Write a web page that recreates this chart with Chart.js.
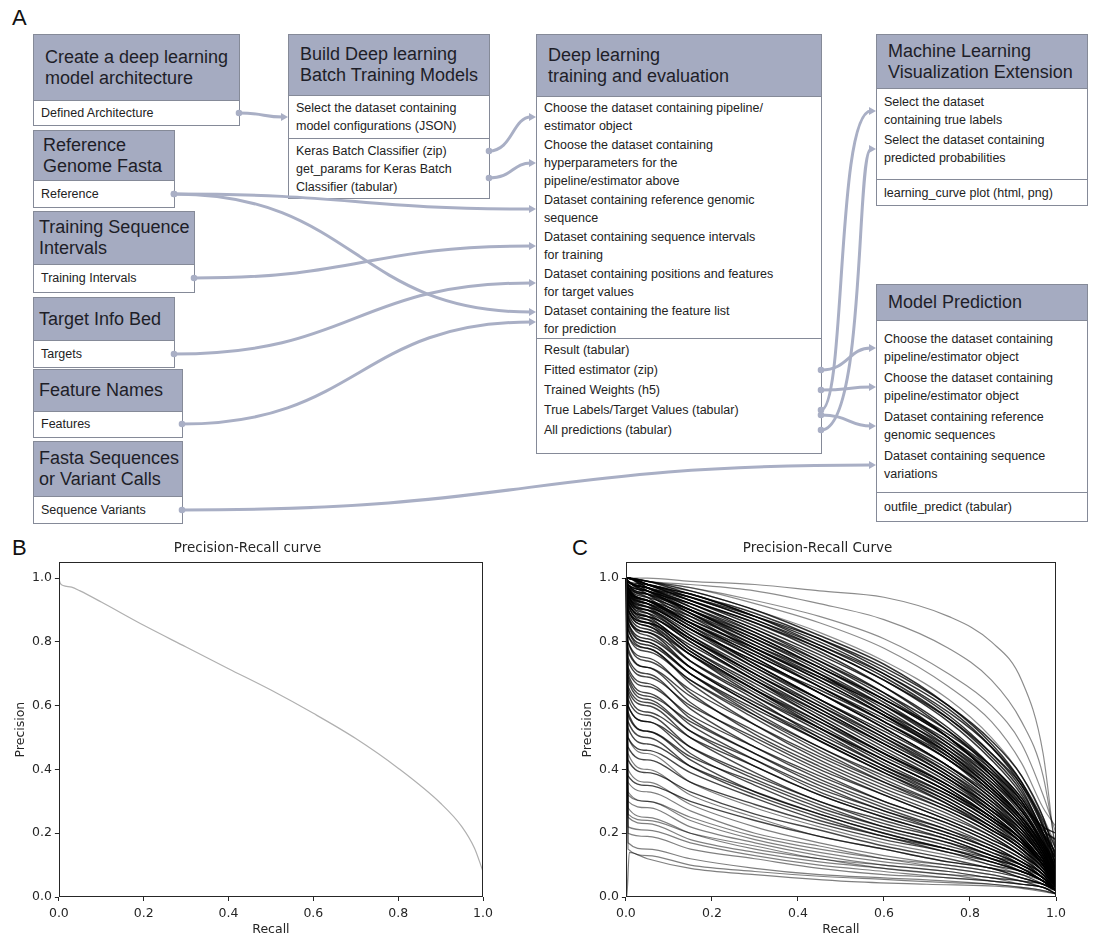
<!DOCTYPE html>
<html><head><meta charset="utf-8">
<script src="https://cdn.jsdelivr.net/npm/chart.js@4.4.1/dist/chart.umd.min.js"></script>
<style>
html,body{margin:0;padding:0;background:#fff;}
#page{position:relative;width:1102px;height:937px;overflow:hidden;font-family:"Liberation Sans",Arial,sans-serif;color:#222;}
.lbl{position:absolute;font-size:22px;color:#111;line-height:22px;}
.box{position:absolute;background:#fff;border:1px solid #858a98;box-sizing:border-box;}
.hd{background:#a5abc1;display:flex;align-items:center;padding-left:11px;font-size:18px;line-height:21px;border-bottom:1px solid #858a98;box-sizing:border-box;color:#1e1e28;white-space:nowrap;}
.hd.n{padding-left:5px;}
.sec{box-sizing:border-box;}
.sec + .sec{border-top:1px solid #858a98;}
.it{padding:0 7px;font-size:12.5px;line-height:18px;white-space:nowrap;}
.o20 .it{line-height:20px;}
svg#wires{position:absolute;left:0;top:0;pointer-events:none;}
.cw{position:absolute;}
</style>
</head>
<body>
<div id="page">
  <div class="lbl" style="left:12px;top:7px;">A</div>
  <div class="lbl" style="left:12px;top:537px;">B</div>
  <div class="lbl" style="left:572px;top:537px;">C</div>

  <div class="box" style="left:33px;top:34px;width:207px;">
    <div class="hd" style="height:66px;">Create a deep learning<br>model architecture</div>
    <div class="sec" style="height:24px;padding-top:3px;"><div class="it" id="defarch">Defined Architecture</div></div>
  </div>
  <div class="box" style="left:33px;top:130px;width:142px;">
    <div class="hd" style="height:50px;padding-left:9px;">Reference<br>Genome Fasta</div>
    <div class="sec" style="height:26px;padding-top:4px;"><div class="it" id="ref">Reference</div></div>
  </div>
  <div class="box" style="left:33px;top:211px;width:162px;">
    <div class="hd n" style="height:53px;">Training Sequence<br>Intervals</div>
    <div class="sec" style="height:27px;padding-top:4px;"><div class="it" id="train">Training Intervals</div></div>
  </div>
  <div class="box" style="left:33px;top:297px;width:142px;">
    <div class="hd n" style="height:43px;">Target Info Bed</div>
    <div class="sec" style="height:26px;padding-top:4px;"><div class="it" id="targ">Targets</div></div>
  </div>
  <div class="box" style="left:33px;top:369px;width:150px;">
    <div class="hd n" style="height:42px;">Feature Names</div>
    <div class="sec" style="height:25px;padding-top:3px;"><div class="it" id="feat">Features</div></div>
  </div>
  <div class="box" style="left:33px;top:441px;width:150px;">
    <div class="hd n" style="height:55px;">Fasta Sequences<br>or Variant Calls</div>
    <div class="sec" style="height:26px;padding-top:4px;"><div class="it" id="seqv">Sequence Variants</div></div>
  </div>

  <div class="box" style="left:288px;top:34px;width:202px;">
    <div class="hd" style="height:61px;">Build Deep learning<br>Batch Training Models</div>
    <div class="sec" style="height:42px;padding-top:3px;"><div class="it" id="b_in">Select the dataset containing<br>model configurations (JSON)</div></div>
    <div class="sec" style="height:60px;padding-top:3px;">
      <div class="it" id="kzip">Keras Batch Classifier (zip)</div>
      <div class="it" id="gp">get_params for Keras Batch<br>Classifier (tabular)</div>
    </div>
  </div>

  <div class="box" style="left:536px;top:34px;width:286px;">
    <div class="hd" style="height:62px;">Deep learning<br>training and evaluation</div>
    <div class="sec" style="height:241px;padding-top:2px;">
      <div class="it" id="dl1" style="margin-bottom:1px">Choose the dataset containing pipeline/<br>estimator object</div>
      <div class="it" id="dl2" style="margin-bottom:1px">Choose the dataset containing<br>hyperparameters for the<br>pipeline/estimator above</div>
      <div class="it" id="dl3" style="margin-bottom:1px">Dataset containing reference genomic<br>sequence</div>
      <div class="it" id="dl4" style="margin-bottom:1px">Dataset containing sequence intervals<br>for training</div>
      <div class="it" id="dl5" style="margin-bottom:1px">Dataset containing positions and features<br>for target values</div>
      <div class="it" id="dl6">Dataset containing the feature list<br>for prediction</div>
    </div>
    <div class="sec o20" style="height:115px;padding-top:1px;">
      <div class="it" id="res">Result (tabular)</div>
      <div class="it" id="fit">Fitted estimator (zip)</div>
      <div class="it" id="tw">Trained Weights (h5)</div>
      <div class="it" id="tl">True Labels/Target Values (tabular)</div>
      <div class="it" id="ap">All predictions (tabular)</div>
    </div>
  </div>

  <div class="box" style="left:876px;top:34px;width:212px;">
    <div class="hd" style="height:54px;">Machine Learning<br>Visualization Extension</div>
    <div class="sec" style="height:90px;padding-top:4px;">
      <div class="it" id="m1" style="margin-bottom:2px">Select the dataset<br>containing true labels</div>
      <div class="it" id="m2">Select the dataset containing<br>predicted probabilities</div>
    </div>
    <div class="sec" style="height:26px;padding-top:4px;"><div class="it">learning_curve plot (html, png)</div></div>
  </div>

  <div class="box" style="left:876px;top:284px;width:212px;">
    <div class="hd" style="height:36px;">Model Prediction</div>
    <div class="sec" style="height:171px;padding-top:9px;">
      <div class="it" id="p1" style="margin-bottom:3px">Choose the dataset containing<br>pipeline/estimator object</div>
      <div class="it" id="p2" style="margin-bottom:3px">Choose the dataset containing<br>pipeline/estimator object</div>
      <div class="it" id="p3" style="margin-bottom:3px">Dataset containing reference<br>genomic sequences</div>
      <div class="it" id="p4">Dataset containing sequence<br>variations</div>
    </div>
    <div class="sec" style="height:29px;padding-top:5px;"><div class="it">outfile_predict (tabular)</div></div>
  </div>

  <svg id="wires" width="1102" height="530"></svg>

  <div class="cw" style="left:0;top:530px;width:550px;height:407px;"><canvas id="chartB" width="550" height="407"></canvas></div>
  <div class="cw" style="left:550px;top:530px;width:552px;height:407px;"><canvas id="chartC" width="552" height="407"></canvas></div>
</div>

<script>
// ---------- Panel B data ----------
const recallB = [0, 0.003, 0.01, 0.03, 0.05, 0.1, 0.2, 0.3, 0.4, 0.5, 0.6, 0.7, 0.8, 0.9, 0.95, 0.98, 1.0];
const precisionB = [1.0, 0.985, 0.977, 0.972, 0.96, 0.925, 0.852, 0.784, 0.716, 0.649, 0.576, 0.497, 0.404, 0.294, 0.221, 0.153, 0.08];

// ---------- Panel C data (precision at each recall grid point) ----------
const recallC = [0, 0.005, 0.05, 0.15, 0.3, 0.45, 0.6, 0.75, 0.85, 0.92, 0.97, 1.0];
const curvesTop = [
  [1, 1, 1, .99, .98, .96, .94, .88, .80, .68, .45, .12],
  [1, 1, .99, .98, .96, .92, .87, .78, .68, .55, .38, .15],
  [1, 1, .99, .97, .93, .88, .81, .70, .60, .48, .32, .20],
  [1, 1, .99, .97, .92, .86, .78, .66, .55, .42, .28, .22],
  [1, 1, .98, .96, .90, .83, .74, .62, .50, .38, .25, .16]
];
const curvesDense = [
  [1, 1, .98, .94, .87, .78, .68, .55, .43, .32, .20, .10],
  [1, 1, .98, .93, .85, .76, .66, .53, .41, .30, .18, .09],
  [1, 1, .97, .92, .84, .74, .63, .50, .38, .28, .17, .08],
  [1, .99, .97, .91, .82, .72, .61, .48, .37, .27, .16, .07],
  [1, .99, .96, .90, .80, .70, .59, .46, .35, .25, .15, .07],
  [1, 1, .96, .89, .78, .68, .57, .45, .34, .24, .14, .06],
  [1, .98, .95, .88, .77, .66, .55, .43, .33, .23, .14, .06],
  [1, .98, .94, .86, .75, .64, .53, .41, .31, .22, .13, .05],
  [1, .97, .93, .85, .73, .62, .51, .40, .30, .21, .12, .05],
  [1, .97, .92, .84, .72, .61, .50, .38, .29, .20, .12, .05],
  [1, .96, .91, .82, .70, .59, .48, .37, .28, .19, .11, .04],
  [1, .95, .90, .81, .69, .58, .47, .36, .27, .19, .11, .04],
  [1, .95, .89, .80, .68, .56, .45, .35, .26, .18, .10, .04],
  [1, .94, .88, .78, .66, .55, .44, .34, .25, .17, .10, .04],
  [1, .93, .87, .77, .65, .53, .42, .32, .24, .17, .10, .03],
  [1, .92, .86, .76, .63, .52, .41, .31, .23, .16, .09, .03],
  [1, .90, .85, .74, .62, .50, .40, .30, .22, .15, .09, .03],
  [1, .88, .83, .72, .60, .49, .39, .29, .21, .15, .08, .03],
  [1, .99, .95, .87, .78, .69, .60, .49, .39, .30, .19, .12],
  [1, 1, .97, .90, .81, .72, .62, .51, .41, .31, .20, .14],
  [1, .98, .96, .89, .79, .69, .58, .47, .37, .27, .17, .11],
  [1, .97, .93, .86, .76, .66, .56, .45, .35, .25, .16, .10],
  [1, .96, .92, .84, .74, .64, .54, .43, .33, .24, .15, .09],
  [1, 1, .98, .95, .88, .80, .70, .57, .45, .34, .21, .18],
  [1, 1, .99, .95, .89, .81, .71, .59, .47, .35, .22, .13],
  [1, .99, .97, .92, .83, .73, .62, .50, .39, .29, .22, .20]
];
const curvesDense2 = [
  [1, 1, .99, .96, .90, .82, .73, .60, .48, .36, .22, .10],
  [1, 1, .98, .95, .88, .79, .69, .56, .44, .33, .20, .08],
  [1, .99, .97, .93, .86, .77, .66, .52, .40, .29, .18, .06],
  [1, .99, .96, .92, .84, .75, .64, .50, .38, .27, .16, .05],
  [1, .98, .95, .90, .81, .71, .60, .47, .36, .26, .15, .05],
  [1, .97, .94, .89, .80, .70, .58, .45, .34, .25, .15, .06],
  [1, .97, .93, .87, .78, .68, .57, .44, .33, .24, .14, .05],
  [1, .96, .93, .86, .76, .66, .55, .43, .32, .23, .14, .06],
  [1, .96, .92, .85, .75, .64, .53, .41, .31, .22, .13, .05],
  [1, .95, .91, .84, .73, .62, .51, .39, .29, .21, .12, .04],
  [1, .94, .90, .82, .71, .60, .49, .38, .28, .20, .12, .04],
  [1, .93, .89, .81, .70, .59, .48, .37, .27, .19, .11, .05],
  [1, .92, .88, .80, .68, .57, .46, .35, .26, .18, .10, .04],
  [1, .91, .87, .78, .67, .56, .45, .34, .25, .18, .10, .03],
  [1, .90, .86, .77, .65, .54, .43, .33, .24, .17, .10, .03],
  [1, .99, .97, .94, .88, .81, .72, .60, .49, .38, .25, .12],
  [1, .99, .98, .94, .87, .79, .70, .58, .47, .36, .24, .15],
  [1, 1, .98, .93, .86, .78, .68, .56, .45, .35, .23, .10],
  [1, .98, .96, .91, .83, .74, .64, .52, .41, .31, .20, .12],
  [1, .97, .95, .90, .82, .72, .62, .50, .40, .30, .19, .08],
  [1, .96, .93, .88, .79, .70, .60, .48, .38, .28, .17, .07],
  [1, .95, .92, .86, .77, .67, .57, .46, .36, .27, .17, .09],
  [1, .94, .91, .84, .74, .65, .55, .44, .34, .25, .16, .08],
  [1, .93, .90, .83, .72, .62, .52, .41, .32, .23, .14, .06],
  [1, .92, .88, .81, .70, .60, .50, .39, .30, .22, .13, .05],
  [1, .90, .86, .79, .68, .58, .48, .37, .28, .21, .13, .06],
  [1, .89, .84, .76, .65, .55, .45, .35, .27, .20, .12, .05],
  [1, .87, .83, .74, .63, .53, .43, .33, .25, .18, .11, .04],
  [1, .86, .81, .72, .61, .51, .41, .32, .24, .17, .10, .04],
  [1, .84, .79, .70, .59, .49, .39, .30, .22, .16, .10, .04]
];
const curvesMiddle = [
  [1, .85, .80, .70, .57, .46, .36, .27, .20, .14, .08, .03],
  [1, .82, .78, .67, .54, .43, .34, .26, .19, .13, .08, .03],
  [1, .80, .75, .64, .51, .41, .32, .24, .18, .13, .07, .03],
  [1, .78, .72, .61, .49, .39, .30, .23, .17, .12, .07, .02],
  [1, .75, .70, .59, .47, .37, .29, .22, .16, .11, .07, .02],
  [1, .72, .67, .56, .45, .35, .27, .21, .15, .11, .06, .02],
  [1, .70, .64, .54, .43, .33, .26, .20, .15, .10, .06, .02],
  [1, .68, .62, .52, .41, .32, .25, .19, .14, .10, .06, .02],
  [1, .65, .60, .50, .39, .30, .24, .18, .13, .09, .05, .02],
  [1, .62, .57, .47, .37, .29, .22, .17, .12, .09, .05, .02],
  [1, .60, .55, .45, .35, .27, .21, .16, .12, .08, .05, .02],
  [1, .58, .52, .43, .33, .26, .20, .15, .11, .08, .05, .02],
  [1, .90, .85, .76, .64, .53, .43, .33, .25, .18, .11, .05],
  [1, .88, .82, .72, .60, .50, .40, .31, .23, .17, .10, .05],
  [1, .86, .80, .70, .58, .47, .38, .29, .22, .16, .10, .06],
  [1, .84, .78, .68, .56, .45, .36, .28, .21, .15, .09, .04],
  [1, .55, .50, .41, .32, .25, .19, .15, .11, .08, .05, .02],
  [1, .82, .77, .68, .57, .47, .37, .28, .21, .15, .09, .03],
  [1, .80, .74, .65, .54, .44, .35, .27, .20, .14, .08, .03],
  [1, .77, .72, .63, .52, .42, .33, .25, .19, .13, .08, .03],
  [1, .74, .69, .60, .50, .40, .32, .24, .18, .13, .08, .02],
  [1, .71, .66, .57, .47, .38, .30, .23, .17, .12, .07, .02],
  [1, .69, .63, .55, .45, .36, .28, .21, .16, .11, .07, .02],
  [1, .66, .61, .52, .43, .34, .27, .20, .15, .11, .06, .02],
  [1, .64, .58, .50, .41, .32, .25, .19, .14, .10, .06, .02],
  [1, .60, .55, .47, .38, .30, .23, .18, .13, .10, .06, .02],
  [1, .57, .52, .44, .36, .28, .22, .17, .13, .09, .06, .02],
  [1, .53, .48, .41, .33, .26, .20, .15, .12, .09, .05, .02],
  [1, .50, .46, .39, .31, .24, .19, .14, .11, .08, .05, .02],
  [1, .47, .43, .36, .29, .23, .18, .14, .10, .08, .05, .02],
  [1, .43, .39, .33, .26, .21, .16, .12, .09, .07, .04, .02],
  [1, .38, .35, .30, .24, .19, .15, .11, .09, .06, .04, .02]
];
const curvesLow = [
  [1, .50, .45, .36, .28, .22, .17, .13, .10, .07, .05, .02],
  [1, .45, .40, .32, .25, .19, .15, .11, .09, .06, .04, .02],
  [1, .40, .36, .29, .22, .17, .13, .10, .08, .06, .04, .02],
  [1, .36, .33, .27, .20, .16, .12, .09, .07, .05, .04, .02],
  [1, .33, .30, .24, .18, .14, .11, .09, .07, .05, .03, .02],
  [1, .30, .28, .22, .17, .13, .10, .08, .06, .05, .03, .01],
  [1, .28, .25, .20, .15, .12, .09, .07, .06, .04, .03, .01],
  [1, .25, .23, .18, .14, .11, .09, .07, .05, .04, .03, .01],
  [1, .22, .21, .17, .13, .10, .08, .06, .05, .04, .03, .01],
  [1, .20, .19, .15, .12, .09, .07, .06, .05, .04, .03, .01],
  [1, .17, .15, .12, .09, .07, .06, .05, .04, .03, .02, .01],
  [1, .15, .13, .10, .08, .065, .055, .045, .04, .03, .02, .01],
  [1, .32, .30, .25, .19, .15, .12, .10, .08, .06, .04, .03],
  [1, .26, .24, .20, .16, .12, .10, .08, .06, .05, .04, .02]
];
// one curve whose first predictions are wrong (precision drops to 0 near recall 0)
const recallZeroStart = [0, 0.002, 0.008, 0.05, 0.15, 0.3, 0.5, 0.7, 0.9, 1.0];
const precisionZeroStart = [1, 0, 0.14, 0.12, 0.09, 0.07, 0.05, 0.04, 0.03, 0.01];
const axisTicks = [0, 0.2, 0.4, 0.6, 0.8, 1.0];

// ---------- diagram wiring ----------
const wires = [
  ['defarch','b_in',0,0],
  ['kzip','dl1',0,0],
  ['gp','dl2',0,0],
  ['ref','dl3',0,0],
  ['ref','dl6',0,-8],
  ['train','dl4',0,0],
  ['targ','dl5',0,0],
  ['feat','dl6',0,2],
  ['fit','p1',0,0],
  ['tw','p2',0,0],
  ['tl','m1',0,0,25,40],
  ['ap','m2',0,0,45,20],
  ['tl','p3',5,0],
  ['seqv','p4',0,0]
];
(function drawWires(){
  const svg = document.getElementById('wires');
  const page = document.getElementById('page').getBoundingClientRect();
  const col = '#a9afc5';
  let out = '';
  wires.forEach(w => {
    const a = document.getElementById(w[0]), b = document.getElementById(w[1]);
    const ra = a.getBoundingClientRect(), rb = b.getBoundingClientRect();
    const ba = a.closest('.box').getBoundingClientRect(), bb = b.closest('.box').getBoundingClientRect();
    const x1 = ba.right - page.left - 1, y1 = ra.top + ra.height/2 - page.top + w[2];
    const x2 = bb.left - page.left, y2 = rb.top + rb.height/2 - page.top + w[3];
    const dx = x2 - x1;
    const k1 = w[4] !== undefined ? w[4] : Math.max(20, dx*0.5);
    const k2 = w[5] !== undefined ? w[5] : Math.max(20, dx*0.5);
    out += `<path d="M${x1},${y1} C${x1+k1},${y1} ${x2-k2},${y2} ${x2-5},${y2}" fill="none" stroke="${col}" stroke-width="3"/>`;
    out += `<circle cx="${x1}" cy="${y1}" r="3.3" fill="${col}"/>`;
    out += `<path d="M${x2-7},${y2-4} L${x2},${y2} L${x2-7},${y2+4} Z" fill="${col}"/>`;
  });
  svg.innerHTML = out;
})();

// ---------- charts ----------
const txt = '#262626';
const framePlugin = {
  id: 'frame',
  afterDatasetsDraw(chart) {
    const {ctx, chartArea: a} = chart;
    ctx.save();
    ctx.strokeStyle = txt; ctx.lineWidth = 1;
    ctx.strokeRect(Math.round(a.left) + 0.5, Math.round(a.top) + 0.5, Math.round(a.right - a.left) - 1, Math.round(a.bottom - a.top) - 1);
    ctx.restore();
  }
};
function axis(title, max, tickPad, titlePad) {
  return {
    type: 'linear', min: 0, max: max,
    afterBuildTicks: s => { s.ticks = axisTicks.map(v => ({value: v})); },
    ticks: {color: txt, font: {family: 'DejaVu Sans', size: 12.5}, padding: tickPad, maxRotation: 0, autoSkip: false,
      callback: v => Number(v).toFixed(1)},
    grid: {display: true, drawOnChartArea: false, drawTicks: true, tickLength: 4, color: txt},
    border: {display: false},
    title: {display: true, text: title, color: txt, font: {family: 'DejaVu Sans', size: 12.5}, padding: titlePad}
  };
}
function options(titleText, pad) {
  return {
    responsive: false, animation: false, maintainAspectRatio: false,
    layout: {padding: pad},
    plugins: {
      legend: {display: false}, tooltip: {enabled: false},
      title: {display: true, text: titleText, color: txt, font: {family: 'DejaVu Sans', size: 13.5, weight: 'normal'}, padding: {top: 0, bottom: 6}}
    },
    elements: {point: {radius: 0}},
    scales: {
      x: axis('Recall', 1, 5, {top: -4, bottom: 0}),
      y: axis('Precision', 1.05, 3, {top: 1, bottom: 1})
    }
  };
}
const toXY = (xs, ys) => xs.map((x, i) => ({x: x, y: ys[i]}));

new Chart(document.getElementById('chartB'), {
  type: 'line',
  data: {datasets: [{data: toXY(recallB, precisionB), borderColor: '#b0b0b0', borderWidth: 1.2, cubicInterpolationMode: 'monotone', fill: false}]},
  options: options('Precision-Recall curve', {top: 10, left: 12, right: 67, bottom: 0}),
  plugins: [framePlugin]
});

const lineSet = (group, alpha, w) => group.map(ys => ({data: toXY(recallC, ys), borderColor: `rgba(0,0,0,${alpha})`, borderWidth: w, cubicInterpolationMode: 'monotone', fill: false}));
const datasetsC = [].concat(
  lineSet(curvesTop, 0.45, 1.2),
  lineSet(curvesDense, 0.8, 1.5),
  lineSet(curvesDense2, 0.8, 1.5),
  lineSet(curvesMiddle, 0.72, 1.4),
  lineSet(curvesLow, 0.5, 1.2),
  [{data: toXY(recallZeroStart, precisionZeroStart), borderColor: 'rgba(0,0,0,0.5)', borderWidth: 1.2, cubicInterpolationMode: 'monotone', fill: false}]
);
new Chart(document.getElementById('chartC'), {
  type: 'line',
  data: {datasets: datasetsC},
  options: options('Precision-Recall Curve', {top: 10, left: 29, right: 46, bottom: 0}),
  plugins: [framePlugin]
});
</script>
</body></html>
